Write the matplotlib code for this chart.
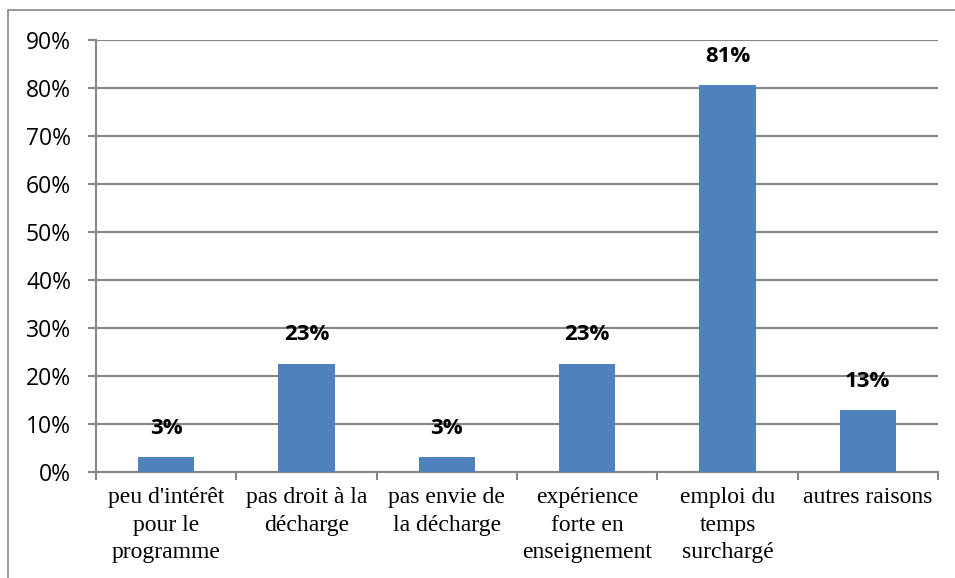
import numpy as np
import matplotlib.pyplot as plt
from matplotlib.patches import Rectangle

categories = ["peu d'intérêt\npour le\nprogramme", "pas droit à la\ndécharge",
              "pas envie de\nla décharge", "expérience\nforte en\nenseignement",
              "emploi du\ntemps\nsurchargé", "autres raisons"]
values = [0.032, 0.226, 0.032, 0.226, 0.806, 0.129]
labels = ["3%", "23%", "3%", "23%", "81%", "13%"]
yticks = np.arange(0, 0.91, 0.1)

grey = '#868686'
fig = plt.figure(figsize=(9.55, 5.78), dpi=100)
fig.patches.append(Rectangle((8/955, -0.1), 1.2, 1 - 10/578 + 0.1, transform=fig.transFigure,
                             fill=False, edgecolor=grey, linewidth=1.2))
ax = fig.add_axes([96/955, 1 - 472/578, 842/955, 432/578])

x = np.arange(len(values))
ax.bar(x, values, width=0.4, color='#4F81BD', zorder=3)
for xi, v, lab in zip(x, values, labels):
    ax.annotate(lab, (xi, v), xytext=(0, 13), textcoords='offset points',
                ha='center', va='bottom', fontsize=16, fontweight='bold',
                family='Open Sans')

ax.set_xlim(-0.5, len(values) - 0.5)
ax.set_ylim(0, 0.9)
ax.set_yticks(yticks)
ax.set_yticklabels(['%d%%' % round(t * 100) for t in yticks], family='Open Sans', fontsize=16.5)
ax.yaxis.grid(True, color=grey, linewidth=1.5, zorder=0)
ax.tick_params(axis='y', length=6, width=1.5, color=grey, pad=12)

ax.set_xticks(x)
ax.set_xticklabels(categories, family='Liberation Serif', fontsize=17, linespacing=1.4)
ax.set_xticks(np.arange(-0.5, len(values)), minor=True)
ax.tick_params(axis='x', which='major', length=0, pad=11)
ax.tick_params(axis='x', which='minor', length=6, width=1.5, color=grey)

for s in ['top', 'right']:
    ax.spines[s].set_visible(False)
for s in ['left', 'bottom']:
    ax.spines[s].set_color(grey)
    ax.spines[s].set_linewidth(1.5)

fig.savefig('out.png', dpi=100)
